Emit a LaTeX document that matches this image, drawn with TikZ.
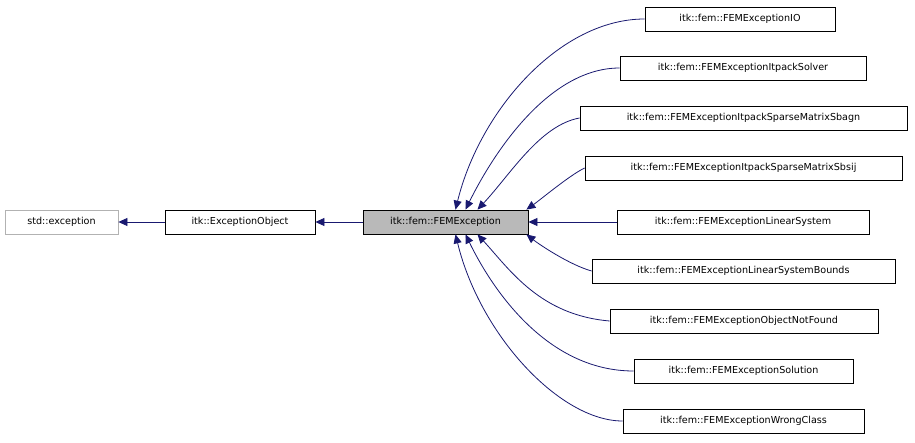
\documentclass[tikz,border=0pt]{standalone}
\usepackage{fontspec}
\setmainfont{DejaVu Sans}
\usetikzlibrary{calc,arrows.meta}
\definecolor{edgec}{HTML}{191970}
\begin{document}
\begin{tikzpicture}[x=1pt,y=-1pt,
  box/.style={draw=black,line width=0.8pt,fill=white,minimum height=24pt,inner sep=0pt,font=\fontsize{9.6}{10}\selectfont},
  edge/.style={draw=edgec,line width=0.8pt,-{Triangle[length=9pt,width=8pt]}}]
\useasboundingbox (0,0) rectangle (915,443);
\node[box,draw=gray!60,minimum width=113pt] (std) at (61.5,222) {std::exception};
\node[box,minimum width=150pt] (eo) at (240,222) {itk::ExceptionObject};
\node[box,fill=gray!55,minimum width=165pt] (fem) at (445.5,222) {itk::fem::FEMException};
\node[box,minimum width=190pt] (io) at (740,19) {itk::fem::FEMExceptionIO};
\node[box,minimum width=246pt] (sol) at (743,68) {itk::fem::FEMExceptionItpackSolver};
\node[box,minimum width=327pt] (sbagn) at (743.5,118) {itk::fem::FEMExceptionItpackSparseMatrixSbagn};
\node[box,minimum width=317pt] (sbsij) at (743.5,168) {itk::fem::FEMExceptionItpackSparseMatrixSbsij};
\node[box,minimum width=252pt] (ls) at (743,222) {itk::fem::FEMExceptionLinearSystem};
\node[box,minimum width=303pt] (lsb) at (743.5,271) {itk::fem::FEMExceptionLinearSystemBounds};
\node[box,minimum width=268pt] (onf) at (744,321) {itk::fem::FEMExceptionObjectNotFound};
\node[box,minimum width=219pt] (solu) at (743.5,371) {itk::fem::FEMExceptionSolution};
\node[box,minimum width=241pt] (wc) at (743.5,421) {itk::fem::FEMExceptionWrongClass};
\draw[edge] (eo) -- (std);
\draw[edge] (fem) -- (eo);
\draw[edge] (ls) -- (fem);
\draw[edge] (io.west) .. controls (560,19) and (480,110) .. ($(fem.north)+(10,0)$);
\draw[edge] (sol.west) .. controls (550,68) and (495,150) .. ($(fem.north)+(20,0)$);
\draw[edge] (sbagn.west) .. controls (540,125) and (510,175) .. ($(fem.north)+(32,0)$);
\draw[edge] (sbsij.west) .. controls (570,175) and (540,200) .. ($(fem.north east)+(-2,0)$);
\draw[edge] (lsb.west) .. controls (570,265) and (540,245) .. ($(fem.south east)+(-2,0)$);
\draw[edge] (onf.west) .. controls (540,315) and (510,270) .. ($(fem.south)+(32,0)$);
\draw[edge] (solu.west) .. controls (550,371) and (495,295) .. ($(fem.south)+(20,0)$);
\draw[edge] (wc.west) .. controls (560,421) and (480,335) .. ($(fem.south)+(10,0)$);
\end{tikzpicture}
\end{document}
